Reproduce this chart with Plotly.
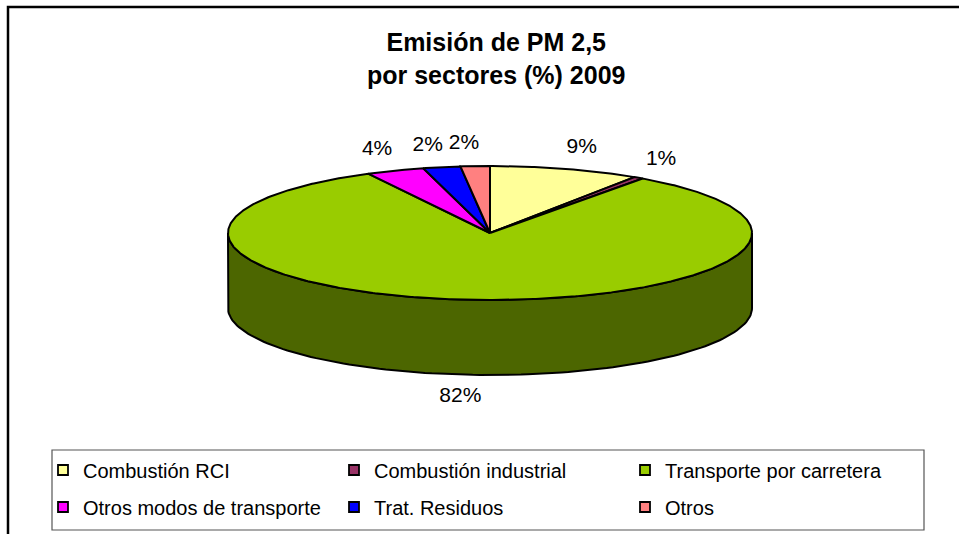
import numpy as np
import plotly.graph_objects as go

# ---- data ----
categories = ["Combustión RCI", "Combustión industrial", "Transporte por carretera",
              "Otros modos de transporte", "Trat. Residuos", "Otros"]
values = [9.3, 0.6, 82.4, 3.6, 2.3, 1.8]
colors = ["#FFFF99", "#993366", "#99CC00", "#FF00FF", "#0000FF", "#FF8080"]
title_text = "Emisión de PM 2,5<br>por sectores (%) 2009"

# ---- geometry (pixel space) ----
W, H = 959, 534
cx, cy = 490, 233
rx, ry = 262, 67
depth = 75
FONT = "Liberation Sans, Arial, sans-serif"


def darken(hexc, f=0.5):
    h = hexc.lstrip("#")
    r, g, b = (int(h[i:i + 2], 16) for i in (0, 2, 4))
    return "#%02X%02X%02X" % (int(r * f), int(g * f), int(b * f))


def rim(theta_deg, dy=0.0, ex=0.0, ey=0.0):
    t = np.radians(theta_deg)
    return cx + (rx + ex) * np.sin(t), cy - (ry + ey) * np.cos(t) + dy


total = float(sum(values))
bounds = np.concatenate([[0.0], np.cumsum(values) / total * 360.0])

fig = go.Figure()

# side walls (front visible part: 90..270 deg)
for i, c in enumerate(colors):
    a, b = max(bounds[i], 90.0), min(bounds[i + 1], 270.0)
    if b <= a:
        continue
    th = np.linspace(a, b, 120)
    xt, yt = rim(th)
    xb, yb = rim(th[::-1], dy=depth)
    fig.add_trace(go.Scatter(
        x=np.concatenate([xt, xb, xt[:1]]), y=np.concatenate([yt, yb, yt[:1]]),
        mode="lines", fill="toself", fillcolor=darken(c),
        line=dict(color="black", width=2), hoverinfo="skip", showlegend=False))

# top faces
for i, c in enumerate(colors):
    th = np.linspace(bounds[i], bounds[i + 1], max(4, int((bounds[i + 1] - bounds[i]) * 2)))
    xs, ys = rim(th)
    fig.add_trace(go.Scatter(
        x=np.concatenate([[cx], xs, [cx]]), y=np.concatenate([[cy], ys, [cy]]),
        mode="lines", fill="toself", fillcolor=c,
        line=dict(color="black", width=2), hoverinfo="skip", showlegend=False))

# data labels
mids = (bounds[:-1] + bounds[1:]) / 2
lx, ly = [], []
for m in mids:
    x, y = rim(m, ex=22, ey=22)
    s = np.sin(np.radians(m))
    if abs(s) > 0.03:
        x += 10 * np.sign(s)
    if np.cos(np.radians(m)) < 0:
        y += depth
    lx.append(x)
    ly.append(y)
fig.add_trace(go.Scatter(
    x=lx, y=ly, mode="text", text=[f"{round(v / total * 100)}%" for v in values],
    textfont=dict(family=FONT, size=21, color="black"), textposition="middle center",
    hoverinfo="skip", showlegend=False))

# legend entries (two rows)
for i, (name, c) in enumerate(zip(categories, colors)):
    fig.add_trace(go.Scatter(
        x=[None], y=[None], mode="markers", name=name,
        marker=dict(symbol="square", size=10, color=c, line=dict(color="black", width=1.8)),
        legend="legend" if i < 3 else "legend2"))

leg_common = dict(orientation="h", entrywidth=246, entrywidthmode="pixels",
                  font=dict(family=FONT, size=20, color="black"),
                  bgcolor="rgba(0,0,0,0)", borderwidth=0,
                  xanchor="left", yanchor="middle", traceorder="normal")

fig.update_layout(
    width=W, height=H, margin=dict(l=0, r=0, t=0, b=0),
    paper_bgcolor="white", plot_bgcolor="white",
    xaxis=dict(range=[0, W], visible=False, fixedrange=True),
    yaxis=dict(range=[H, 0], visible=False, fixedrange=True),
    legend=dict(x=43 / W, y=1 - 470 / H, **leg_common),
    legend2=dict(x=43 / W, y=1 - 507 / H, **leg_common),
    annotations=[dict(text="<b>" + title_text.replace("<br>", "</b><br><b>") + "</b>",
                      x=496 / W, y=1 - 58 / H, xref="paper", yref="paper",
                      showarrow=False, xanchor="center", yanchor="middle",
                      font=dict(family=FONT, size=25, color="black"))],
    shapes=[
        dict(type="rect", xref="paper", yref="paper", x0=8 / W, y0=1 - 7 / H, x1=1.1, y1=-0.1,
             line=dict(color="black", width=2.5), fillcolor="rgba(0,0,0,0)", layer="below"),
        dict(type="rect", xref="paper", yref="paper", x0=52 / W, y0=1 - 450 / H,
             x1=924 / W, y1=1 - 530 / H, line=dict(color="#555555", width=1.2),
             fillcolor="rgba(0,0,0,0)", layer="below"),
    ],
)

fig.write_html("out.html", config={"displayModeBar": False},
               post_script="document.body.style.margin='0';document.body.style.overflow='hidden';")
